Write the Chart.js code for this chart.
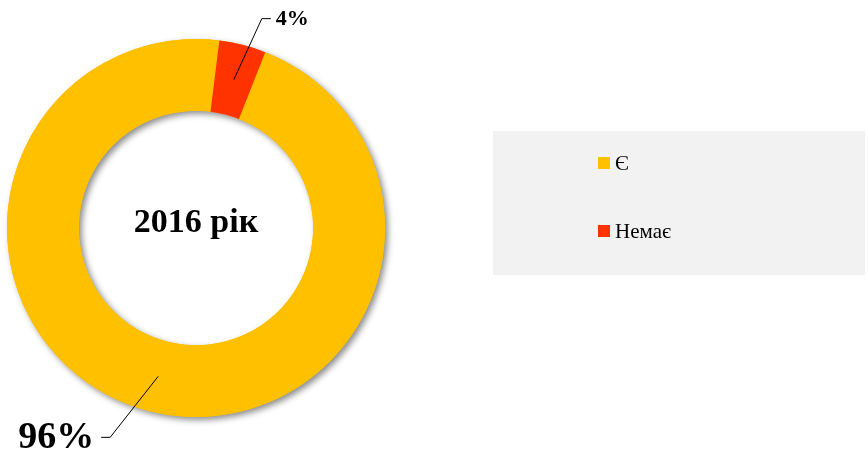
<!DOCTYPE html>
<html>
<head>
<meta charset="utf-8">
<script src="https://cdn.jsdelivr.net/npm/chart.js@4.4.1/dist/chart.umd.min.js"></script>
<style>
  html, body { margin: 0; padding: 0; background: #fff; }
  #wrap { width: 868px; height: 459px; position: relative; }
</style>
</head>
<body>
<div id="wrap"><canvas id="chart1" width="868" height="459"></canvas></div>
<script>
// data
var categories = ["Є", "Немає"];
var shares = [96, 4];
var colors = ["#FFC000", "#FF3300"];
var centerTitle = "2016 рік";

var SERIF = "'Liberation Serif', 'Times New Roman', serif";

// shadow under the ring, drawn once so slices don't shade each other
var ringShadow = {
  id: "ringShadow",
  beforeDatasetsDraw: function (chart) {
    var arc = chart.getDatasetMeta(0).data[0];
    if (!arc) return;
    var ctx = chart.ctx;
    ctx.save();
    ctx.shadowColor = "rgba(0,0,0,0.45)";
    ctx.shadowBlur = 6;
    ctx.shadowOffsetX = 3;
    ctx.shadowOffsetY = 3;
    ctx.fillStyle = colors[0];
    ctx.beginPath();
    ctx.arc(arc.x, arc.y, arc.outerRadius, 0, Math.PI * 2);
    ctx.arc(arc.x, arc.y, arc.innerRadius, 0, Math.PI * 2, true);
    ctx.fill();
    ctx.restore();
  }
};

// percent labels with leader lines, center title, legend box
var labelOffsets = [
  { dx: -48, dy: 61, run: -9, align: "right", size: 38, gap: -7 },
  { dx: 28, dy: -61, run: 9, align: "left", size: 22, gap: 5 }
];

var decorations = {
  id: "decorations",
  afterDraw: function (chart) {
    var ctx = chart.ctx;
    var meta = chart.getDatasetMeta(0);
    var total = shares.reduce(function (a, b) { return a + b; }, 0);

    meta.data.forEach(function (arc, i) {
      var p = arc.tooltipPosition();
      var o = labelOffsets[i];
      var ex = p.x + o.dx, ey = p.y + o.dy;
      ctx.save();
      ctx.strokeStyle = "#000";
      ctx.lineWidth = 1;
      ctx.beginPath();
      ctx.moveTo(p.x, p.y);
      ctx.lineTo(ex, ey);
      ctx.lineTo(ex + o.run, ey);
      ctx.stroke();
      ctx.fillStyle = "#000";
      ctx.font = "bold " + o.size + "px " + SERIF;
      ctx.textAlign = o.align;
      ctx.textBaseline = "middle";
      var txt = Math.round(shares[i] / total * 100) + "%";
      ctx.fillText(txt, ex + o.run + o.gap, ey + 1);
      ctx.restore();
    });

    // center title
    var a0 = meta.data[0];
    ctx.save();
    ctx.fillStyle = "#000";
    ctx.font = "bold 34px " + SERIF;
    ctx.textAlign = "center";
    ctx.textBaseline = "middle";
    ctx.fillText(centerTitle, a0.x, a0.y - 5);
    ctx.restore();

    // legend
    ctx.save();
    ctx.fillStyle = "#F2F2F2";
    ctx.fillRect(493, 131, 372, 144);
    ctx.font = "21px " + SERIF;
    ctx.textAlign = "left";
    ctx.textBaseline = "middle";
    categories.forEach(function (c, i) {
      var y = 163 + i * 68;
      ctx.fillStyle = colors[i];
      ctx.fillRect(598, y - 6, 12, 12);
      ctx.fillStyle = "#000";
      ctx.fillText(c, 615, y + 1);
    });
    ctx.restore();
  }
};

var chartConfig = {
  type: "doughnut",
  data: {
    labels: categories,
    datasets: [
      {
        data: shares,
        backgroundColor: colors,
        borderWidth: 0
      }
    ]
  },
  options: {
    responsive: false,
    animation: false,
    cutout: "62%",
    rotation: 21.5,
    layout: { padding: { left: 7, right: 483, top: 39, bottom: 42 } },
    plugins: {
      legend: { display: false },
      tooltip: { enabled: false }
    }
  },
  plugins: [ringShadow, decorations]
};

var chart1 = new Chart(document.getElementById("chart1"), chartConfig);
</script>
</body>
</html>
